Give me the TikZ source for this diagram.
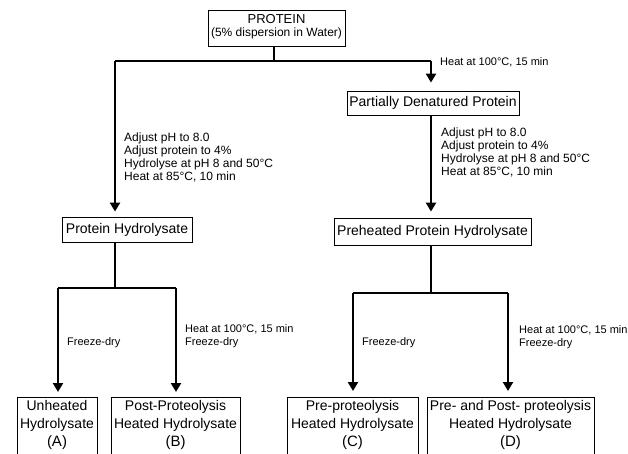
\documentclass[tikz,border=0pt]{standalone}
\usepackage{fontspec}
\setmainfont{Liberation Sans}
\usetikzlibrary{arrows.meta}
\begin{document}
\begin{tikzpicture}[x=1pt,y=-1pt,
  box/.style={draw,line width=0.8pt,inner sep=0pt,align=center,font=\fontsize{14}{18}\selectfont},
  flow/.style={line width=2.6pt},
  arr/.style={flow,-{Triangle[length=9pt,width=10pt]}},
  proc/.style={anchor=west,inner sep=0pt,align=left,font=\fontsize{12}{13}\selectfont},
  lbl/.style={anchor=west,inner sep=0pt,align=left,font=\fontsize{11}{13}\selectfont}]
\useasboundingbox (0,0) rectangle (628,454);

% boxes
\node[box,minimum width=137pt,minimum height=36pt] (P) at (276.5,28)
  {\rule{0pt}{0pt}{\fontsize{13}{15}\selectfont PROTEIN}\\[-5pt]{\fontsize{12}{15}\selectfont (5\% dispersion in Water)}\rule[-6pt]{0pt}{0pt}};
\node[box,minimum width=172pt,minimum height=24pt] (PDP) at (433,103) {Partially Denatured Protein};
\node[box,minimum width=130pt,minimum height=25pt] (PH) at (127,229.5) {Protein Hydrolysate};
\node[box,minimum width=197pt,minimum height=27pt] (PPH) at (432.5,231.5) {Preheated Protein Hydrolysate};

\node[box,anchor=north,minimum width=80pt,minimum height=62pt] (A) at (57,397)
  {Unheated\\Hydrolysate\\{\fontsize{15}{18}\selectfont (A)}\rule[-9pt]{0pt}{0pt}};
\node[box,anchor=north,minimum width=129pt,minimum height=62pt] (B) at (175.5,397)
  {Post-Proteolysis\\Heated Hydrolysate\\{\fontsize{15}{18}\selectfont (B)}\rule[-9pt]{0pt}{0pt}};
\node[box,anchor=north,minimum width=131pt,minimum height=62pt] (C) at (352.5,397)
  {Pre-proteolysis\\Heated Hydrolysate\\{\fontsize{15}{18}\selectfont (C)}\rule[-9pt]{0pt}{0pt}};
\node[box,anchor=north,minimum width=167pt,minimum height=62pt] (D) at (510.5,397)
  {Pre- and Post- proteolysis\\Heated Hydrolysate\\{\fontsize{15}{18}\selectfont (D)}\rule[-9pt]{0pt}{0pt}};

% junctions
\coordinate (j0) at (274,61);
\coordinate (jl) at (115,61);
\coordinate (jr) at (431,61);
\coordinate (k0) at (115,288);
\coordinate (kl) at (58,288);
\coordinate (kr) at (176,288);
\coordinate (m0) at (431,293);
\coordinate (ml) at (353,293);
\coordinate (mr) at (508,293);

% connectors
\draw[flow] (P.south -| j0) -- (j0);
\draw[flow] (jl) -- (jr);
\draw[arr,shorten >=5pt] (jl) -- (jl |- PH.north);
\draw[arr,shorten >=8pt] (jr) -- (jr |- PDP.north);
\draw[arr,shorten >=6pt] (PDP.south -| jr) -- (jr |- PPH.north);

\draw[flow] (PH.south -| k0) -- (k0);
\draw[flow] (kl) -- (kr);
\draw[arr,shorten >=5pt] (kl) -- (kl |- A.north);
\draw[arr,shorten >=5pt] (kr) -- (kr |- B.north);

\draw[flow] (PPH.south -| m0) -- (m0);
\draw[flow] (ml) -- (mr);
\draw[arr,shorten >=6pt] (ml) -- (ml |- C.north);
\draw[arr,shorten >=6pt] (mr) -- (mr |- D.north);

% labels
\node[lbl] (t1) at (440,62) {Heat at 100°C, 15 min};
\node[proc] (t2) at (124,157) {Adjust pH to 8.0\\Adjust protein to 4\%\\Hydrolyse at pH 8 and 50°C\\Heat at 85°C, 10 min};
\node[proc] (t3) at (441,152.5) {Adjust pH to 8.0\\Adjust protein to 4\%\\Hydrolyse at pH 8 and 50°C\\Heat at 85°C, 10 min};
\node[lbl] (t4) at (67,343) {Freeze-dry};
\node[lbl] (t5) at (185,336.5) {Heat at 100°C, 15 min\\Freeze-dry};
\node[lbl] (t6) at (362,343) {Freeze-dry};
\node[lbl] (t7) at (519,337) {Heat at 100°C, 15 min\\Freeze-dry};
\end{tikzpicture}
\end{document}
